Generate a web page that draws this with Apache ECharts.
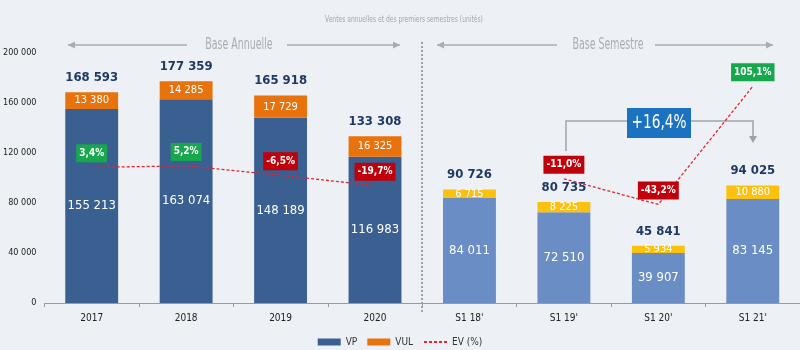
<!DOCTYPE html>
<html>
<head>
<meta charset="utf-8">
<script src="https://cdn.jsdelivr.net/npm/echarts@6/dist/echarts.min.js"></script>
<style>
  html, body { margin: 0; padding: 0; background: #edf1f5; }
  #chart { width: 800px; height: 350px; }
</style>
</head>
<body>
<div id="chart"></div>
<script>
  // donnees
  var categories = ['2017', '2018', '2019', '2020', "S1 18'", "S1 19'", "S1 20'", "S1 21'"];
  var vp = [155213, 163074, 148189, 116983, 84011, 72510, 39907, 83145];
  var vul = [13380, 14285, 17729, 16325, 6715, 8225, 5934, 10880];
  var totals = [168593, 177359, 165918, 133308, 90726, 80735, 45841, 94025];
  var evAnnual = [3.4, 5.2, -6.5, -19.7, null, null, null, null];
  var evSemester = [null, null, null, null, null, -11.0, -43.2, 105.1];
  var yTicks = [0, 40000, 80000, 120000, 160000, 200000];
  var semesterGap = '+16,4%';

  var FONT = '"Liberation Sans Narrow", "DejaVu Sans Condensed", sans-serif';
  var nbAnnual = 4;

  function fmt(v) {
    return String(v).replace(/\B(?=(\d{3})+(?!\d))/g, ' ');
  }
  function fmtPct(v) {
    return v.toFixed(1).replace('.', ',') + '%';
  }

  function barData(values, colA, colS) {
    return values.map(function (v, i) {
      return {value: v, itemStyle: {color: i < nbAnnual ? colA : colS}};
    });
  }

  function evData(values) {
    return values.map(function (v) {
      if (v === null) return '-';
      return {value: v, label: {backgroundColor: v >= 0 ? '#17a84e' : '#c0000a'}};
    });
  }

  var chart = echarts.init(document.getElementById('chart'));

  var evLabel = {
    show: true,
    position: 'top',
    distance: 5,
    color: '#fff',
    fontFamily: FONT,
    fontWeight: 'bold',
    fontSize: 10,
    padding: [4, 3, 4, 3],
    formatter: function (p) { return fmtPct(p.value); }
  };

  var grey = '#a9adb2';
  function arrowLine(x1, x2, y, dir) {
    // dir = -1 fleche a gauche, 1 fleche a droite
    var tip = dir < 0 ? x1 : x2;
    return [
      {type: 'line', shape: {x1: x1, y1: y, x2: x2, y2: y}, style: {stroke: grey, lineWidth: 1.5}},
      {type: 'polygon', shape: {points: [[tip, y], [tip - dir * 7, y - 3.5], [tip - dir * 7, y + 3.5]]}, style: {fill: grey}}
    ];
  }

  function narrowText(x, y, txt, size, color, sx) {
    return {type: 'text', x: x, y: y, scaleX: sx, style: {text: txt, fill: color, font: size + 'px ' + FONT, textAlign: 'center', textVerticalAlign: 'middle'}};
  }

  var graphics = [
    narrowText(404, 20, 'Ventes annuelles et des premiers semestres (unités)', 9, '#a3a7ab', 0.74),
    narrowText(239, 45, 'Base Annuelle', 15, grey, 0.7),
    narrowText(608, 45, 'Base Semestre', 15, grey, 0.7),
    {type: 'line', shape: {x1: 422, y1: 42, x2: 422, y2: 312}, style: {stroke: '#555', lineWidth: 1, lineDash: [2, 2]}},
    {type: 'polyline', shape: {points: [[566, 151], [566, 121], [753, 121], [753, 137]]}, style: {stroke: '#a0a3a6', lineWidth: 1.5, fill: null}},
    {type: 'polygon', shape: {points: [[749, 136], [757, 136], [753, 143]]}, style: {fill: '#a0a3a6'}},
    {type: 'rect', shape: {x: 627, y: 108, width: 64, height: 30}, style: {fill: '#1b72c0'}},
    narrowText(659, 123, semesterGap, 19, '#fff', 0.8)
  ].concat(arrowLine(68, 187, 45, -1), arrowLine(287, 400, 45, 1),
           arrowLine(437, 557, 45, -1), arrowLine(655, 773, 45, 1));

  var option = {
    backgroundColor: '#edf1f5',
    animation: false,
    textStyle: {fontFamily: FONT},
    grid: {left: 44, right: 0, top: 53, bottom: 47},
    legend: {
      top: 332,
      left: 'center',
      itemWidth: 23,
      itemHeight: 7,
      itemGap: 10,
      textStyle: {fontSize: 10, color: '#333', fontFamily: FONT},
      data: [
        {name: 'VP', icon: 'rect'},
        {name: 'VUL', icon: 'rect'},
        {name: 'EV (%)', itemStyle: {opacity: 0}}
      ]
    },
    xAxis: {
      type: 'category',
      data: categories,
      axisLine: {lineStyle: {color: '#9a9a9a'}},
      axisTick: {show: true, length: 4, lineStyle: {color: '#9a9a9a'}},
      axisLabel: {color: '#222', fontSize: 10, margin: 10, fontFamily: FONT}
    },
    yAxis: [{
      type: 'value',
      min: yTicks[0],
      max: yTicks[yTicks.length - 1],
      interval: yTicks[1] - yTicks[0],
      axisLine: {show: false},
      axisTick: {show: false},
      splitLine: {show: false},
      axisLabel: {color: '#222', fontSize: 9, margin: 8, fontFamily: FONT, formatter: fmt}
    }, {
      type: 'value',
      show: false,
      min: -167,
      max: 147,
      splitLine: {show: false}
    }],
    series: [{
      name: 'VP',
      type: 'bar',
      stack: 'ventes',
      barWidth: '56%',
      itemStyle: {color: '#3a5f91'},
      data: barData(vp, '#3a5f91', '#6a8dc6'),
      label: {show: true, position: 'inside', color: '#fff', fontSize: 13, fontFamily: FONT, formatter: function (p) { return fmt(p.value); }}
    }, {
      name: 'VUL',
      type: 'bar',
      stack: 'ventes',
      itemStyle: {color: '#e8720c'},
      data: barData(vul, '#e8720c', '#fcc10f'),
      label: {show: true, position: 'inside', color: '#fff', fontSize: 11, fontFamily: FONT, formatter: function (p) { return fmt(p.value); }}
    }, {
      name: 'Total',
      type: 'line',
      data: totals,
      symbol: 'circle',
      symbolSize: 0,
      silent: true,
      lineStyle: {width: 0, opacity: 0},
      label: {show: true, position: 'top', distance: 8, color: '#1f3864', fontWeight: 'bold', fontSize: 13, fontFamily: FONT, formatter: function (p) { return fmt(p.value); }}
    }, {
      name: 'EV (%)',
      type: 'line',
      yAxisIndex: 1,
      data: evData(evAnnual),
      symbol: 'circle',
      symbolSize: 0,
      itemStyle: {color: '#e3262e'},
      lineStyle: {color: '#e3262e', width: 1.3, type: [3, 2]},
      label: evLabel,
      z: 5
    }, {
      name: 'EV (%)',
      type: 'line',
      yAxisIndex: 1,
      data: evData(evSemester),
      symbol: 'circle',
      symbolSize: 0,
      itemStyle: {color: '#e3262e'},
      lineStyle: {color: '#e3262e', width: 1.3, type: [3, 2]},
      label: evLabel,
      z: 5
    }],
    graphic: graphics
  };

  chart.setOption(option);
</script>
</body>
</html>
